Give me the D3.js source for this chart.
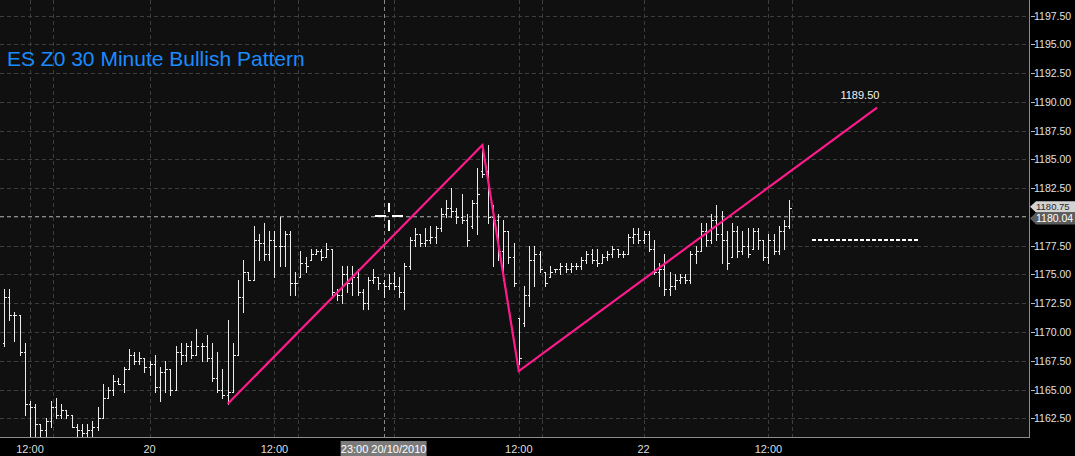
<!DOCTYPE html>
<html><head><meta charset="utf-8">
<script src="https://cdn.jsdelivr.net/npm/d3@7"></script>
<style>
html,body{margin:0;padding:0;background:#000;overflow:hidden;}
svg{display:block;}
</style></head><body>
<svg id="chart" width="1075" height="456"></svg>
<script>
// ---- data (30-minute OHLC bars, ES Z0) ----
const opens = [1169.0,1173.0,1171.5,1171.5,1168.25,1163.75,1163.5,1162.0,1161.5,1162.25,
1163.5,1162.75,1163.25,1162.75,1161.75,1161.5,1161.25,1161.5,1161.75,1162.5,
1164.25,1165.0,1165.75,1165.5,1166.75,1168.0,1167.5,1167.75,1167.0,1167.25,
1165.25,1166.5,1166.75,1165.0,1168.25,1168.0,1168.75,1168.0,1168.75,1168.75,
1167.75,1166.0,1165.0,1164.5,1164.75,1168.0,1173.0,1175.25,1174.5,1178.0,
1177.75,1176.75,1178.0,1177.5,1177.5,1178.5,1174.25,1174.75,1176.0,1176.25,
1176.75,1177.0,1176.5,1177.25,1173.5,1173.25,1175.0,1174.25,1174.75,1173.5,
1172.5,1174.5,1174.75,1174.25,1174.0,1174.25,1174.0,1173.5,1175.75,1178.0,
1178.5,1177.75,1178.0,1178.25,1179.0,1180.25,1180.75,1180.5,1180.0,1179.75,
1179.25,1181.25,1184.0,1184.0,1180.0,1179.75,1177.0,1178.75,1176.5,1171.25,
1170.75,1173.25,1176.25,1176.75,1175.25,1174.75,1175.5,1175.5,1175.75,1175.5,
1175.75,1175.75,1176.25,1176.75,1176.25,1176.0,1176.5,1176.75,1177.25,1176.75,
1176.75,1178.25,1178.5,1178.0,1178.5,1177.25,1175.25,1175.5,1173.75,1174.0,
1174.5,1174.75,1174.5,1176.75,1177.0,1178.75,1178.0,1179.75,1178.5,1178.0,
1176.5,1178.75,1177.0,1177.5,1177.25,1178.75,1178.0,1176.5,1178.0,1177.0,
1178.75,1179.25];
const highs = [1173.75,1173.75,1171.75,1171.5,1169.0,1164.0,1163.75,1162.0,1162.5,1164.0,
1164.25,1163.75,1163.25,1162.75,1162.0,1162.0,1162.0,1162.25,1163.5,1165.5,
1165.25,1166.25,1166.0,1167.0,1168.5,1168.25,1168.25,1167.75,1167.5,1168.0,
1167.0,1167.5,1166.75,1168.75,1169.0,1169.0,1169.25,1170.25,1169.0,1169.75,
1169.0,1168.25,1166.75,1171.0,1169.0,1174.5,1176.25,1175.25,1179.25,1178.5,
1179.5,1178.75,1178.75,1180.0,1178.75,1178.75,1175.25,1177.0,1176.5,1177.25,
1177.25,1177.25,1177.75,1177.25,1173.75,1175.75,1175.75,1175.75,1175.5,1173.75,
1174.75,1175.5,1174.75,1174.5,1175.0,1175.25,1174.75,1176.0,1178.25,1179.0,
1178.5,1179.0,1179.25,1179.25,1180.75,1181.5,1182.5,1180.75,1182.0,1180.25,
1181.5,1184.25,1186.25,1186.25,1181.0,1180.25,1179.75,1178.75,1177.75,1171.25,
1174.0,1177.5,1177.5,1177.0,1175.25,1175.75,1175.5,1176.0,1176.0,1176.0,
1176.0,1176.5,1177.0,1177.25,1177.25,1176.75,1177.0,1177.5,1177.25,1177.0,
1178.5,1179.0,1179.0,1178.75,1178.75,1178.0,1176.0,1176.75,1175.25,1175.0,
1175.0,1175.0,1177.0,1177.5,1179.5,1179.5,1180.25,1181.0,1180.5,1178.75,
1179.5,1179.25,1178.75,1179.0,1179.0,1179.0,1178.0,1178.5,1178.5,1179.25,
1179.75,1181.5];
const lows = [1168.75,1171.0,1169.25,1168.0,1162.75,1160.75,1160.75,1160.75,1160.75,1161.75,
1162.5,1162.5,1162.5,1161.75,1160.75,1160.75,1160.75,1160.75,1161.5,1162.5,
1164.25,1164.5,1165.5,1164.75,1166.75,1167.25,1167.25,1166.5,1166.25,1164.75,
1164.0,1164.75,1164.5,1165.0,1167.25,1167.5,1167.75,1168.0,1167.5,1167.5,
1165.75,1164.75,1164.25,1163.75,1164.75,1168.0,1171.75,1174.5,1174.5,1176.25,
1176.25,1176.25,1174.75,1175.75,1175.75,1173.25,1173.25,1174.75,1175.25,1176.25,
1176.75,1176.25,1176.5,1173.25,1172.75,1172.5,1173.5,1173.25,1173.25,1172.0,
1172.0,1174.25,1173.75,1173.0,1173.75,1173.75,1173.0,1172.0,1175.5,1177.5,
1177.5,1177.5,1177.75,1177.75,1178.75,1180.0,1180.0,1179.5,1179.5,1177.5,
1179.0,1178.5,1183.5,1179.5,1175.75,1176.25,1174.5,1176.0,1174.0,1167.25,
1170.5,1172.25,1174.0,1175.25,1174.0,1174.75,1175.25,1175.0,1175.25,1175.25,
1175.5,1175.5,1176.0,1176.0,1175.75,1176.0,1176.25,1176.5,1176.5,1176.5,
1176.75,1177.75,1177.75,1177.75,1177.0,1175.0,1174.0,1173.25,1173.25,1173.75,
1174.25,1174.25,1174.25,1176.0,1177.0,1177.5,1177.75,1178.0,1176.0,1175.5,
1176.5,1176.5,1176.75,1176.5,1177.25,1177.25,1176.25,1176.0,1176.75,1176.75,
1177.25,1179.0];
const closes = [1173.0,1171.5,1171.5,1168.25,1163.75,1163.5,1162.0,1161.5,1162.25,1163.5,
1162.75,1163.25,1162.75,1161.75,1161.5,1161.25,1161.5,1161.75,1162.5,1164.25,
1165.0,1165.75,1165.5,1166.75,1168.0,1167.5,1167.75,1167.0,1167.25,1165.25,
1166.5,1166.75,1165.0,1168.25,1168.0,1168.75,1168.0,1168.75,1168.75,1167.75,
1166.0,1165.0,1164.5,1164.75,1168.0,1173.0,1175.25,1174.5,1178.0,1177.75,
1176.75,1178.0,1177.5,1177.5,1178.5,1174.25,1174.25,1176.0,1175.75,1176.75,
1177.0,1176.5,1177.25,1173.5,1173.25,1175.0,1174.25,1174.75,1173.5,1172.5,
1174.5,1174.75,1174.25,1174.0,1174.25,1174.0,1173.5,1175.75,1178.0,1178.5,
1177.75,1178.0,1178.25,1179.0,1180.25,1180.75,1180.5,1180.0,1179.75,1178.0,
1181.25,1182.0,1183.75,1180.0,1179.75,1177.0,1178.75,1176.5,1174.25,1167.75,
1173.25,1176.25,1176.75,1175.5,1174.25,1175.25,1175.5,1175.75,1175.5,1175.75,
1175.75,1176.25,1176.75,1176.25,1176.0,1176.5,1176.75,1177.25,1176.75,1176.75,
1178.25,1178.5,1178.0,1178.5,1177.25,1175.25,1175.5,1173.75,1174.0,1174.5,
1174.75,1174.5,1176.75,1177.0,1178.75,1178.0,1179.75,1178.5,1178.0,1176.0,
1178.75,1177.0,1177.5,1176.75,1178.75,1178.0,1176.5,1178.0,1177.0,1178.75,
1179.25,1180.75];

const priceTicks = [1162.5,1165,1167.5,1170,1172.5,1175,1177.5,1180,1182.5,1185,1187.5,1190,1192.5,1195,1197.5];
const timeTickIdx = [5, 28, 52, 75, 99, 123, 147];
const timeTickLabels = ["12:00","20","12:00","21","12:00","22","12:00"];
const sessionGridIdx = [9.5, 56.5, 103.5, 151.5];

const patternIdx = [43, 92, 99, 167.9];
const patternPrice = [1163.75, 1186.25, 1166.6, 1189.5];
const targetIdx = 164.6;
const targetLabel = "1189.50";
const levelIdx = [155.4, 175.8];
const levelPrice = 1178.0;
const crossIdx = 73;
const cursorIdx = 74.0;
const crossPrice = 1180.04;
const crossTimeLabel = "23:00 20/10/2010";
const lastPrice = 1180.75;
const title = "ES Z0 30 Minute Bullish Pattern";

// ---- layout ----
const W = 1075, H = 456;
const plotR = 1029, plotB = 437;
const svg = d3.select("#chart");
const x = d3.scaleLinear().domain([0, 151]).range([4, 789.2]);
const y = d3.scaleLinear().domain([1162.5, 1197.5]).range([418.3, 15.5]);
const font = "'Liberation Sans', Arial, sans-serif";

svg.append("rect").attr("width", W).attr("height", H).attr("fill", "#000");
svg.append("rect").attr("x", 0).attr("y", 0).attr("width", plotR).attr("height", plotB).attr("fill", "#101010");

svg.append("defs").append("clipPath").attr("id", "plotclip")
  .append("rect").attr("x", 0).attr("y", 0).attr("width", plotR).attr("height", plotB);

// grid
const grid = svg.append("g").attr("shape-rendering", "crispEdges");
grid.selectAll("line.h").data(priceTicks).join("line")
  .attr("x1", 0).attr("x2", plotR)
  .attr("y1", d => Math.round(y(d)) + 0.5).attr("y2", d => Math.round(y(d)) + 0.5)
  .attr("stroke", "#3d3d3d").attr("stroke-dasharray", "4,3");
grid.selectAll("line.v").data(timeTickIdx.concat(sessionGridIdx)).join("line")
  .attr("y1", 0).attr("y2", plotB + 4)
  .attr("x1", d => Math.round(x(d)) + 0.5).attr("x2", d => Math.round(x(d)) + 0.5)
  .attr("stroke", "#3d3d3d").attr("stroke-dasharray", "4,3");

// crosshair lines
grid.append("line").attr("x1", 0).attr("x2", plotR)
  .attr("y1", Math.round(y(crossPrice)) + 0.5).attr("y2", Math.round(y(crossPrice)) + 0.5)
  .attr("stroke", "#8a8a8a").attr("stroke-dasharray", "4,3");
grid.append("line").attr("y1", 0).attr("y2", plotB + 4)
  .attr("x1", Math.round(x(crossIdx)) + 0.5).attr("x2", Math.round(x(crossIdx)) + 0.5)
  .attr("stroke", "#8a8a8a").attr("stroke-dasharray", "4,3");

// OHLC bars
const idx = d3.range(opens.length);
const bars = svg.append("g").attr("clip-path", "url(#plotclip)")
  .attr("shape-rendering", "crispEdges").attr("stroke", "#ececec").attr("stroke-width", 1);
const px = i => Math.round(x(i)) + 0.5;
const py = v => Math.round(y(v)) + 0.5;
bars.selectAll("line.hl").data(idx).join("line")
  .attr("x1", px).attr("x2", px)
  .attr("y1", i => Math.round(y(highs[i]))).attr("y2", i => Math.round(y(lows[i])) + 1);
bars.selectAll("line.o").data(idx).join("line")
  .attr("x1", i => px(i) - 2).attr("x2", px)
  .attr("y1", i => py(opens[i])).attr("y2", i => py(opens[i]));
bars.selectAll("line.c").data(idx).join("line")
  .attr("x1", px).attr("x2", i => px(i) + 2)
  .attr("y1", i => py(closes[i])).attr("y2", i => py(closes[i]));

// pattern lines
const pattern = patternIdx.map((d, i) => [x(d), y(patternPrice[i])]);
svg.append("path").attr("d", d3.line()(pattern))
  .attr("fill", "none").attr("stroke", "#ff1a8c").attr("stroke-width", 2.2)
  .attr("stroke-linejoin", "miter");
svg.append("text").attr("x", x(targetIdx)).attr("y", y(patternPrice[3]) - 9)
  .attr("text-anchor", "middle").attr("font-family", font).attr("font-size", 11)
  .attr("fill", "#f2f2f2").text(targetLabel);

// target level dashed
svg.append("line").attr("x1", x(levelIdx[0])).attr("x2", x(levelIdx[1]))
  .attr("y1", Math.round(y(levelPrice))).attr("y2", Math.round(y(levelPrice)))
  .attr("stroke", "#ffffff").attr("stroke-width", 2).attr("stroke-dasharray", "4,2")
  .attr("shape-rendering", "crispEdges");

// cursor cross
const cx = Math.round(x(cursorIdx)), cy = Math.round(y(crossPrice));
const cur = svg.append("g").attr("stroke", "#ffffff").attr("stroke-width", 2.5).attr("shape-rendering", "crispEdges");
cur.append("line").attr("x1", cx - 14).attr("x2", cx - 3).attr("y1", cy).attr("y2", cy);
cur.append("line").attr("x1", cx + 3).attr("x2", cx + 14).attr("y1", cy).attr("y2", cy);
cur.append("line").attr("x1", cx).attr("x2", cx).attr("y1", cy - 13).attr("y2", cy - 4);
cur.append("line").attr("x1", cx).attr("x2", cx).attr("y1", cy + 4).attr("y2", cy + 15);

// title
svg.append("text").attr("x", 7).attr("y", 66).attr("font-family", font).attr("font-size", 21)
  .attr("fill", "#1a8cff").text(title);

// borders
svg.append("line").attr("x1", plotR + 0.5).attr("x2", plotR + 0.5).attr("y1", 0).attr("y2", plotB + 1)
  .attr("stroke", "#8c8c8c").attr("shape-rendering", "crispEdges");
svg.append("line").attr("x1", 0).attr("x2", plotR + 1).attr("y1", plotB + 0.5).attr("y2", plotB + 0.5)
  .attr("stroke", "#8c8c8c").attr("shape-rendering", "crispEdges");

// right price axis
const ax = svg.append("g");
ax.selectAll("line").data(priceTicks).join("line")
  .attr("x1", plotR + 2).attr("x2", plotR + 6)
  .attr("y1", d => Math.round(y(d)) + 0.5).attr("y2", d => Math.round(y(d)) + 0.5)
  .attr("stroke", "#bbbbbb").attr("shape-rendering", "crispEdges");
ax.selectAll("text").data(priceTicks).join("text")
  .attr("x", plotR + 5).attr("y", d => y(d) + 4)
  .attr("font-family", font).attr("font-size", 10.5).attr("fill", "#e0e0e0")
  .text(d => d.toFixed(2));

// last price tag (partly covered) and crosshair price tag
function tag(price, top, bottom, fill, color, label, size) {
  const yc = y(price);
  const g = svg.append("g");
  g.append("path").attr("d", `M${plotR + 1},${(top + bottom) / 2} L${plotR + 7},${top} L${W},${top} L${W},${bottom} L${plotR + 7},${bottom} Z`)
    .attr("fill", fill);
  g.append("text").attr("x", plotR + 7).attr("y", bottom - 2).attr("font-family", font)
    .attr("font-size", size).attr("fill", color).text(label);
}
const yl = y(lastPrice), yx = y(crossPrice);
tag(lastPrice, yl - 7, yx - 4, "#d2d2d2", "#2a2a2a", lastPrice.toFixed(2), 9.5);
tag(crossPrice, yx - 4, yx + 8, "#5c5c5c", "#ffffff", crossPrice.toFixed(2), 10.5);

// bottom time axis (labels under the crosshair time tag are hidden)
const tlx = x(crossIdx);
const shown = timeTickIdx.map((d, i) => ({ d, t: timeTickLabels[i] }))
  .filter(o => Math.abs(x(o.d) - tlx) > 55);
svg.append("g").selectAll("text").data(shown).join("text")
  .attr("x", o => x(o.d)).attr("y", 453)
  .attr("text-anchor", "middle").attr("font-family", font).attr("font-size", 11)
  .attr("fill", "#dddddd").text(o => o.t);

// crosshair time tag
svg.append("rect").attr("x", tlx - 43).attr("y", 441).attr("width", 86).attr("height", 15).attr("fill", "#7a7a7a");
svg.append("text").attr("x", tlx).attr("y", 453).attr("text-anchor", "middle")
  .attr("font-family", font).attr("font-size", 11).attr("fill", "#ffffff").text(crossTimeLabel);
</script>
</body></html>
